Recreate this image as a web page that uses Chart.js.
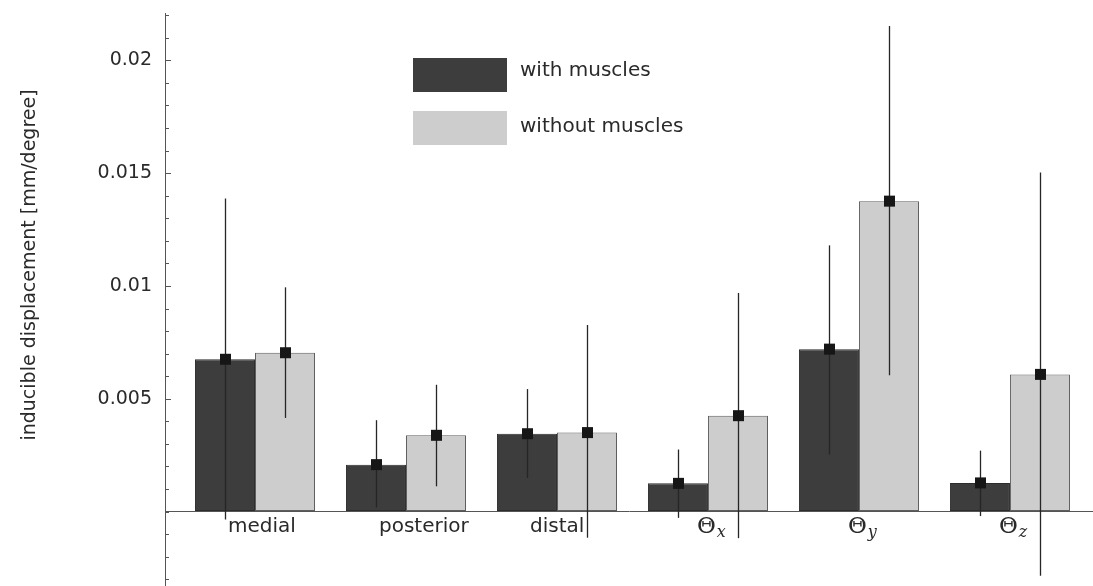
<!DOCTYPE html>
<html>
<head>
<meta charset="utf-8">
<title>Inducible displacement</title>
<script src="https://cdn.jsdelivr.net/npm/chart.js@4.4.1/dist/chart.umd.min.js"></script>
<style>
  html, body { margin: 0; padding: 0; background: #ffffff; }
  #wrap { width: 1093px; height: 586px; }
</style>
</head>
<body>
<div id="wrap"><canvas id="chart" width="1093" height="586"></canvas></div>
<script>
// Movement categories ("_" marks a subscript)
const categories = ['medial', 'posterior', 'distal', 'Θ_x', 'Θ_y', 'Θ_z'];
const seriesNames = ['with muscles', 'without muscles'];

// Mean inducible displacement per category [mm/degree]
const withMuscles    = [0.00675, 0.00208, 0.00345, 0.00125, 0.00720, 0.00127];
const withoutMuscles = [0.00704, 0.00338, 0.00350, 0.00425, 0.01376, 0.00608];

// Error bar ends (lower / upper)
const withLow     = [-0.00035, 0.00018, 0.00149, -0.00028, 0.00253, -0.00020];
const withHigh    = [0.01388, 0.00405, 0.00543, 0.00275, 0.01180, 0.00270];
const withoutLow  = [0.00415, 0.00112, -0.00116, -0.00118, 0.00604, -0.00285];
const withoutHigh = [0.00994, 0.00562, 0.00827, 0.00969, 0.02152, 0.01503];

// Labelled y ticks
const yTickValues = [0.005, 0.01, 0.015, 0.02];
const yTickLabels = ['0.005', '0.01', '0.015', '0.02'];

const TEXT = '#2a2a2a';
const AXIS = '#555555';

// Error bars with square markers, drawn on top of every bar
const errorBars = {
  id: 'errorBars',
  afterDatasetsDraw(chart) {
    const ctx = chart.ctx;
    const y = chart.scales.y;
    ctx.save();
    chart.data.datasets.forEach((ds, di) => {
      const meta = chart.getDatasetMeta(di);
      meta.data.forEach((bar, i) => {
        const x = Math.round(bar.x) + 0.5;
        ctx.strokeStyle = '#262626';
        ctx.lineWidth = 1.3;
        ctx.beginPath();
        ctx.moveTo(x, y.getPixelForValue(ds.errLow[i]));
        ctx.lineTo(x, y.getPixelForValue(ds.errHigh[i]));
        ctx.stroke();
        const s = 11;
        ctx.fillStyle = '#161616';
        ctx.fillRect(x - s / 2, bar.y - s / 2, s, s);
      });
    });
    ctx.restore();
  }
};

// Inward y ticks, category labels, axis title and legend
const decorations = {
  id: 'decorations',
  afterDraw(chart) {
    const ctx = chart.ctx;
    const xs = chart.scales.x;
    const ys = chart.scales.y;
    const left = chart.chartArea.left;
    ctx.save();

    // inward tick marks on the y axis (long ones where a label sits)
    ctx.strokeStyle = AXIS;
    ctx.lineWidth = 1;
    ys.ticks.forEach(t => {
      const major = yTickValues.some(v => Math.abs(v - t.value) < 1e-9);
      const py = Math.round(ys.getPixelForValue(t.value)) + 0.5;
      ctx.beginPath();
      ctx.moveTo(left, py);
      ctx.lineTo(left + (major ? 6 : 4), py);
      ctx.stroke();
    });

    // category labels below the zero line, starting just left of the group centre
    ctx.fillStyle = TEXT;
    ctx.textBaseline = 'alphabetic';
    ctx.textAlign = 'left';
    categories.forEach((name, i) => {
      const cx = xs.getPixelForValue(i);
      const parts = name.split('_');
      if (parts.length === 2) {
        const x0 = cx - 11;
        ctx.font = '23px "DejaVu Serif"';
        const w1 = ctx.measureText(parts[0]).width;
        ctx.fillText(parts[0], x0, 533);
        ctx.font = 'italic 16px "DejaVu Serif"';
        ctx.fillText(parts[1], x0 + w1 + 1, 537);
      } else {
        ctx.font = '20px "DejaVu Sans"';
        ctx.fillText(name, cx - 27, 532);
      }
    });

    // y axis title
    ctx.save();
    ctx.translate(30, 265);
    ctx.rotate(-Math.PI / 2);
    ctx.textAlign = 'center';
    ctx.textBaseline = 'middle';
    ctx.font = '19px "DejaVu Sans"';
    ctx.fillStyle = TEXT;
    ctx.fillText('inducible displacement [mm/degree]', 0, 0);
    ctx.restore();

    // legend
    const boxes = [58, 111];
    const baselines = [76, 132];
    chart.data.datasets.forEach((ds, di) => {
      ctx.fillStyle = ds.backgroundColor;
      ctx.fillRect(413, boxes[di], 94, 34);
      ctx.fillStyle = TEXT;
      ctx.font = '20px "DejaVu Sans"';
      ctx.textAlign = 'left';
      ctx.textBaseline = 'alphabetic';
      ctx.fillText(ds.label, 520, baselines[di]);
    });

    ctx.restore();
  }
};

const toPoints = arr => arr.map((v, i) => ({ x: i, y: v }));

function noPadding(scale) {
  scale.paddingTop = 0;
  scale.paddingBottom = 0;
  scale.paddingLeft = 0;
  scale.paddingRight = 0;
}

new Chart(document.getElementById('chart'), {
  type: 'bar',
  data: {
    datasets: [
      {
        label: seriesNames[0],
        data: toPoints(withMuscles),
        errLow: withLow,
        errHigh: withHigh,
        backgroundColor: '#3d3d3d',
        borderColor: '#2c2c2c',
        borderWidth: 1,
        borderSkipped: false,
        categoryPercentage: 0.795,
        barPercentage: 1
      },
      {
        label: seriesNames[1],
        data: toPoints(withoutMuscles),
        errLow: withoutLow,
        errHigh: withoutHigh,
        backgroundColor: '#cdcdcd',
        borderColor: '#5e5e5e',
        borderWidth: 1,
        borderSkipped: false,
        categoryPercentage: 0.795,
        barPercentage: 1
      }
    ]
  },
  options: {
    responsive: false,
    devicePixelRatio: 1,
    animation: false,
    events: [],
    layout: { padding: { top: 13, left: 0, right: 0, bottom: 0 } },
    plugins: {
      legend: { display: false },
      tooltip: { enabled: false },
      title: { display: false }
    },
    scales: {
      x: {
        type: 'linear',
        position: { y: 0 },
        offset: false,
        min: -0.596,
        max: 5.55,
        afterFit(scale) { scale.height = 0; noPadding(scale); },
        ticks: { display: false, stepSize: 1, includeBounds: false },
        grid: { offset: false, drawOnChartArea: false, drawTicks: false },
        border: { color: AXIS, width: 1 }
      },
      y: {
        type: 'linear',
        position: 'left',
        stacked: false,
        min: -0.0033,
        max: 0.0221,
        afterFit(scale) { scale.width = 165; noPadding(scale); },
        ticks: {
          stepSize: 0.001,
          includeBounds: false,
          autoSkip: false,
          padding: 13,
          color: TEXT,
          font: { family: '"DejaVu Sans"', size: 19 },
          callback(value) {
            const k = yTickValues.findIndex(v => Math.abs(v - value) < 1e-9);
            return k >= 0 ? yTickLabels[k] : '';
          }
        },
        grid: { drawOnChartArea: false, drawTicks: false },
        border: { color: AXIS, width: 1 }
      }
    }
  },
  plugins: [errorBars, decorations]
});
</script>
</body>
</html>
